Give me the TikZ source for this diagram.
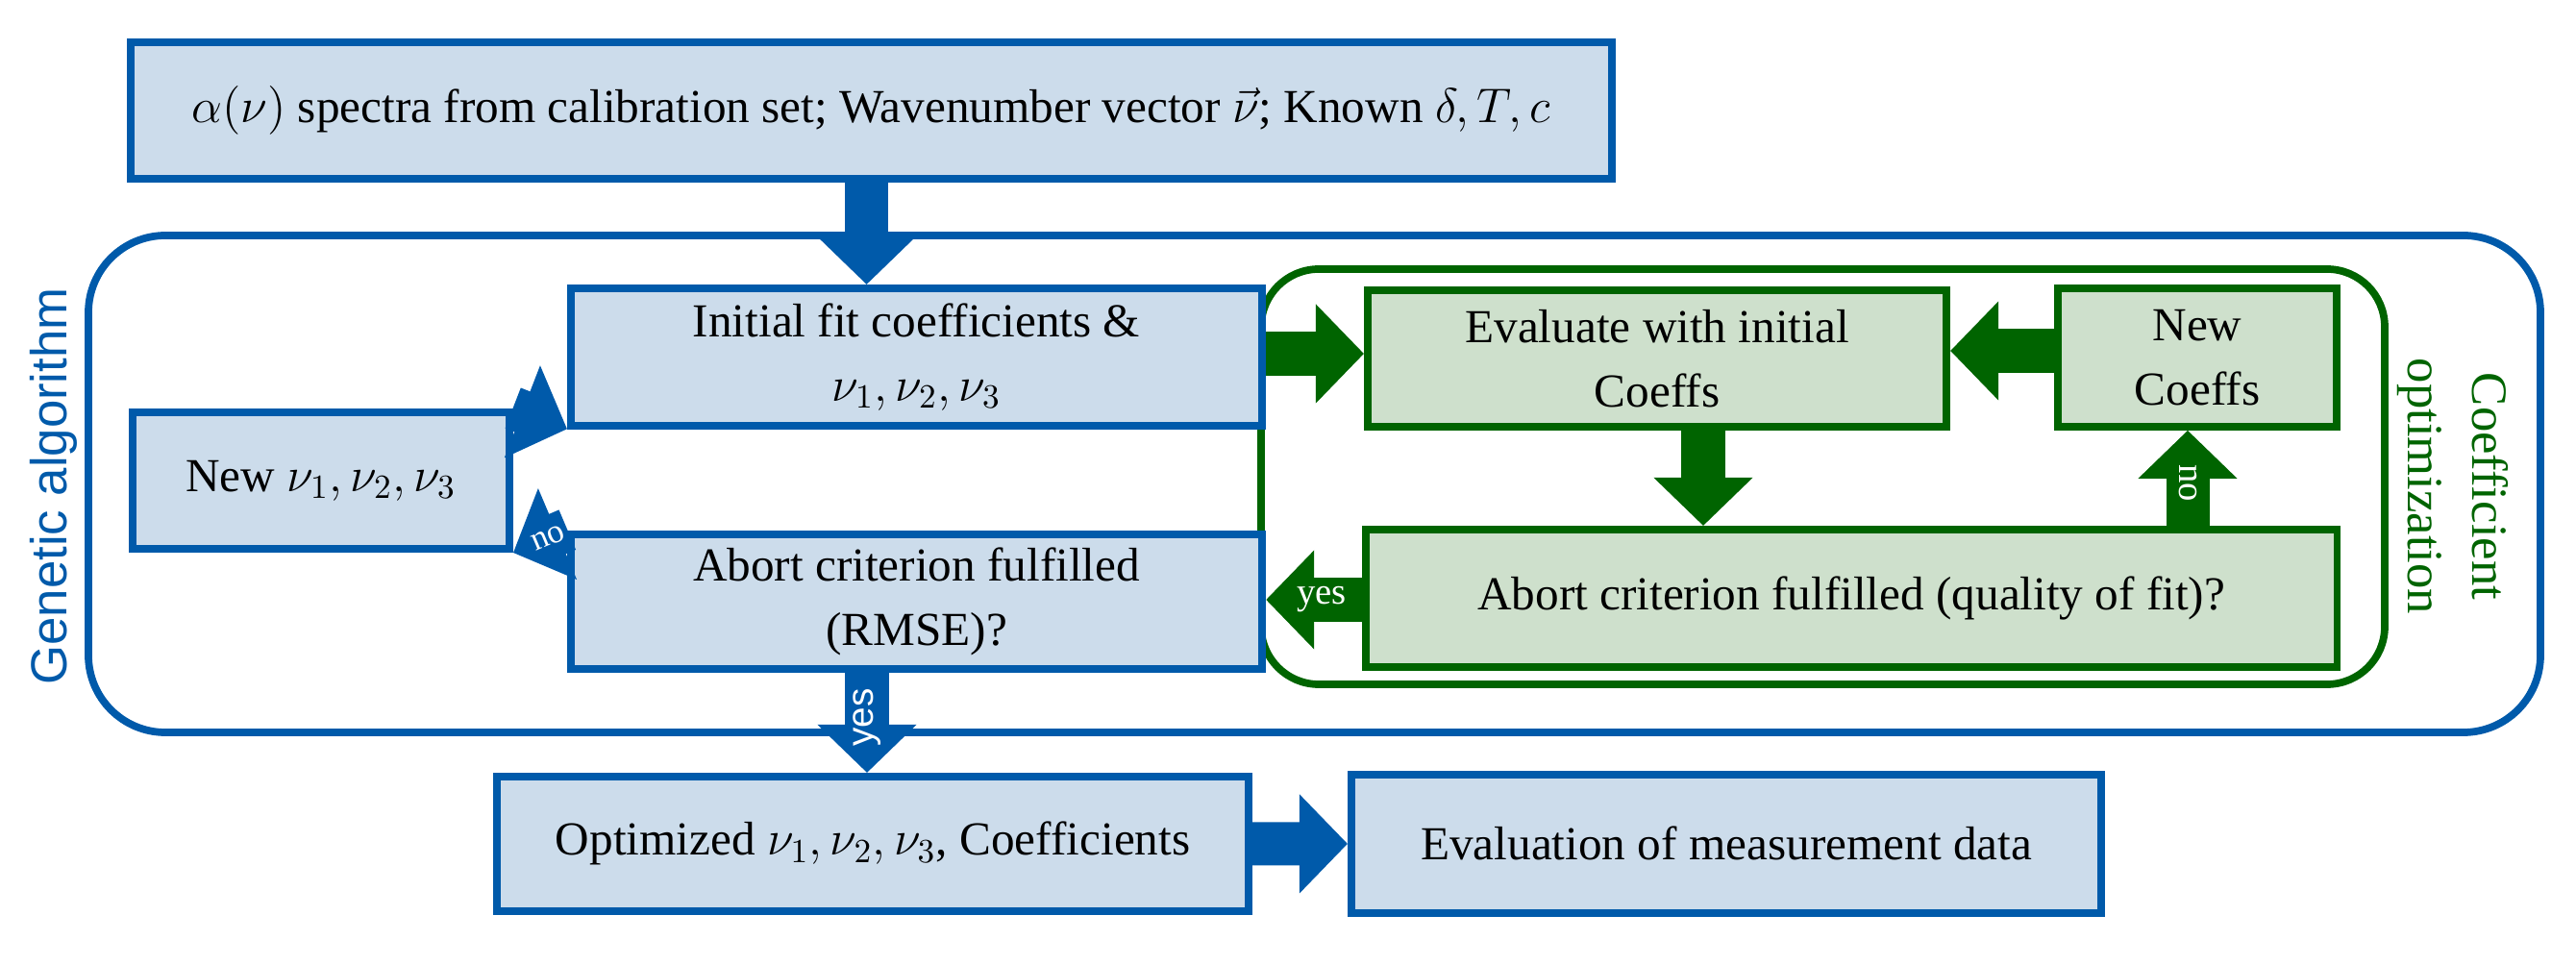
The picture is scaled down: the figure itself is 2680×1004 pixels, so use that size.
\documentclass[tikz,border=0pt]{standalone}
\usepackage{fontspec}
\setmainfont{Liberation Serif}
\newfontfamily\gsans{Liberation Sans}
\usetikzlibrary{arrows.meta,calc}
\definecolor{bl}{RGB}{0,90,170}
\definecolor{blf}{RGB}{204,220,235}
\definecolor{gr}{RGB}{0,100,0}
\definecolor{grf}{RGB}{206,224,204}
\tikzset{
 box/.style={draw=bl,fill=blf,line width=2.2pt,anchor=north west,align=center,inner sep=0pt,font=\fontsize{14}{19}\selectfont},
 gbox/.style={box,draw=gr,fill=grf},
 fat/.style={line width=0.45cm,-{Triangle[width=1.0cm,length=0.5cm]}},
 lab/.style={text=white,font=\fontsize{11}{11}\selectfont,inner sep=0pt}
}
\begin{document}
\begin{tikzpicture}[x=0.01cm,y=-0.01cm]
\useasboundingbox (0,0) rectangle (2680,1004);
% containers
\draw[bl,line width=2.2pt,rounded corners=0.8cm] (92,245) rectangle (2643,762);
\node[bl,rotate=90,font=\gsans\fontsize{15}{15}\selectfont] (ga) at (56,506) {Genetic algorithm};
\draw[gr,line width=2.2pt,rounded corners=0.6cm] (1312,280) rectangle (2481,712);
\node[gr,rotate=-90,align=center,font=\fontsize{15}{19}\selectfont] (co) at (2552,506) {Coefficient\\optimization};
% boxes
\node[box,minimum width=15.4cm,minimum height=1.42cm] (top) at (132,40) {$\alpha(\nu)$ spectra from calibration set; Wavenumber vector $\vec{\nu}$; Known $\delta,T,c$};
\node[box,minimum width=7.19cm,minimum height=1.43cm] (init) at (590,296) {Initial fit coefficients \&\\$\nu_1,\nu_2,\nu_3$};
\node[box,minimum width=3.92cm,minimum height=1.42cm] (newnu) at (134,425) {New $\nu_1,\nu_2,\nu_3$};
\node[box,minimum width=7.19cm,minimum height=1.40cm] (abort) at (590,552) {Abort criterion fulfilled\\(RMSE)?};
\node[box,minimum width=7.82cm,minimum height=1.40cm] (opt) at (513,804) {Optimized $\nu_1,\nu_2,\nu_3$, Coefficients};
\node[box,minimum width=7.80cm,minimum height=1.44cm] (evalm) at (1402,802) {Evaluation of measurement data};
\node[gbox,minimum width=6.02cm,minimum height=1.42cm] (evalc) at (1419,298) {Evaluate with initial\\Coeffs};
\node[gbox,minimum width=2.90cm,minimum height=1.44cm] (newc) at (2137,296) {New\\Coeffs};
\node[gbox,minimum width=10.10cm,minimum height=1.43cm] (qual) at (1417,547) {Abort criterion fulfilled (quality of fit)?};
% arrows
\draw[fat,bl] (top.south -| init.north) ++(-52,0) coordinate (t1) -- (t1 |- init.north);
\draw[fat,bl] ($(newnu.north east)+(-0.3,-0.45)$) -- ($(init.south west)+(0.02,-0.47)$);
\draw[fat,bl] ($(abort.north west)+(0.3,-0.8)$) -- node[lab,sloped,pos=0.35,font=\fontsize{10}{10}\selectfont]{no} ($(newnu.south east)+(-0.05,0.27)$);
\draw[fat,bl] (abort.south -| 902,0) -- node[lab,rotate=90,pos=0.45]{\gsans yes} (opt.north -| 902,0);
\draw[fat,bl] (opt.east) -- (evalm.west);
\draw[fat,gr] (init.east |- 0,368) -- (evalc.west |- 0,368);
\draw[fat,gr] (newc.west |- 0,365) -- (evalc.east |- 0,365);
\draw[fat,gr] (evalc.south -| 1772,0) -- (qual.north -| 1772,0);
\draw[fat,gr] (qual.north -| 2276,0) -- node[lab,rotate=-90,pos=0.45]{no} (newc.south -| 2276,0);
\draw[fat,gr] (qual.west |- 0,624) -- node[lab,pos=0.42]{yes} (abort.east |- 0,624);
\end{tikzpicture}
\end{document}
